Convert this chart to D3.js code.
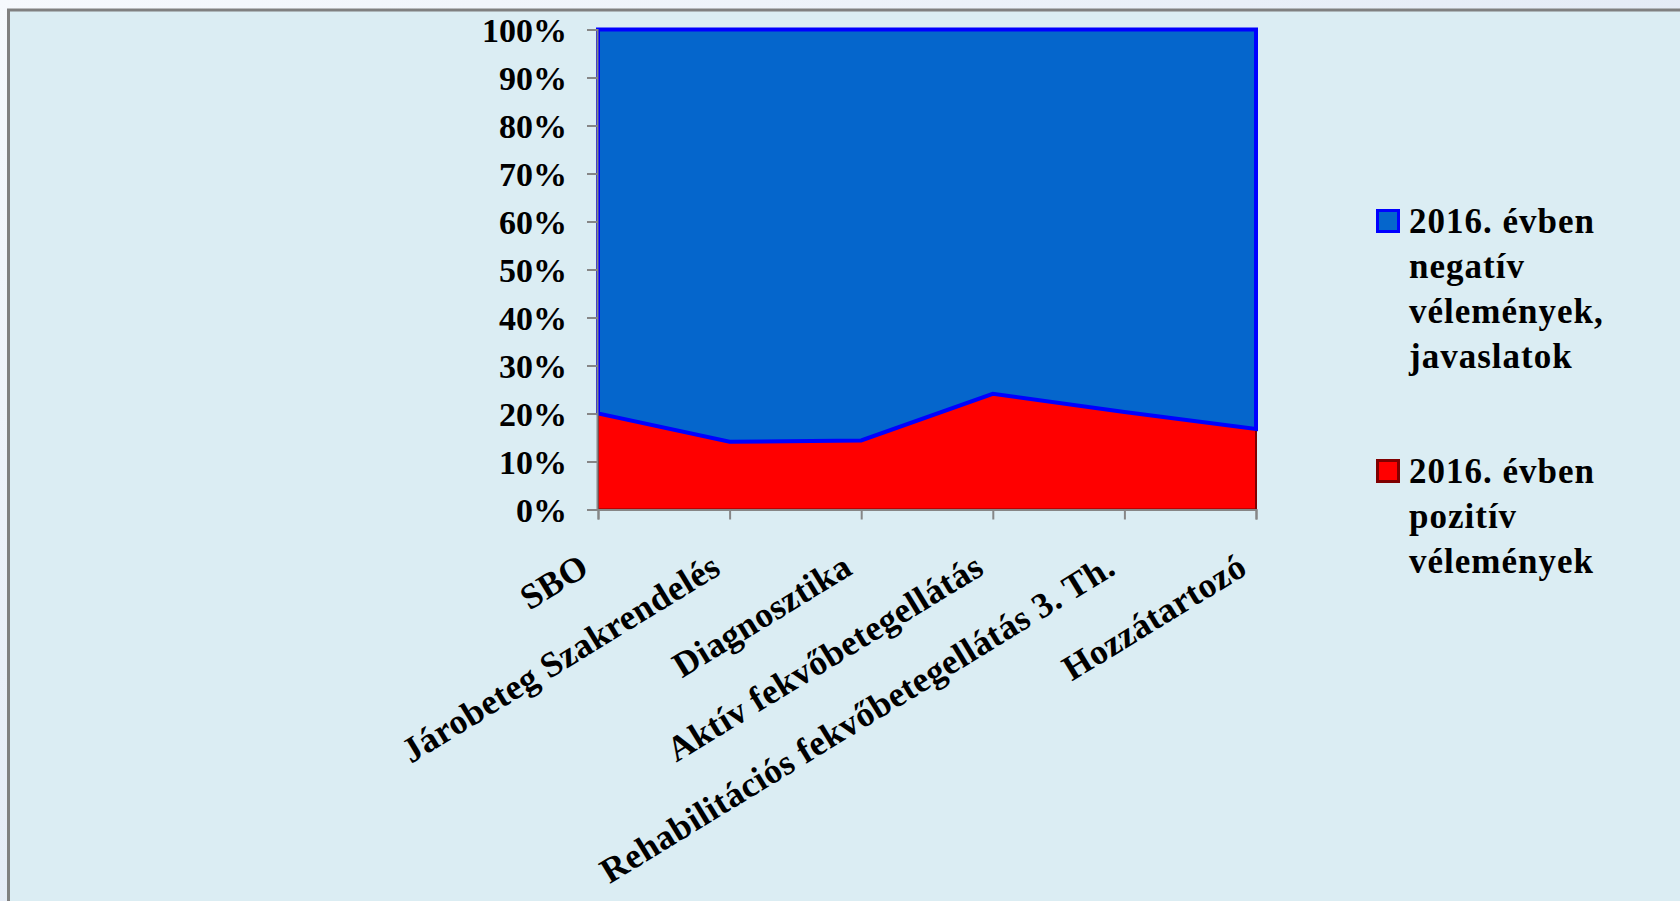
<!DOCTYPE html>
<html>
<head>
<meta charset="utf-8">
<script src="https://cdn.jsdelivr.net/npm/d3@7"></script>
<style>
html,body{margin:0;padding:0;background:#eef3fa;overflow:hidden;}
svg{display:block;}
text{font-family:"Liberation Serif","Times New Roman",serif;font-weight:bold;fill:#000;}
</style>
</head>
<body>
<svg id="chart" width="1680" height="901"></svg>
<script>
const categories = ["SBO","Járobeteg Szakrendelés","Diagnosztika","Aktív fekvőbetegellátás","Rehabilitációs fekvőbetegellátás 3. Th.","Hozzátartozó"];
const positive = [20.0, 14.1, 14.4, 24.1, 20.3, 16.8];
const negative = [80.0, 85.9, 85.6, 75.9, 79.7, 83.2];
const yTicks = [0,10,20,30,40,50,60,70,80,90,100];
const legendPos = ["2016. évben","pozitív","vélemények"];
const legendNeg = ["2016. évben","negatív","vélemények,","javaslatok"];

const svg = d3.select("#chart");
const defs = svg.append("defs");
const g0 = defs.append("linearGradient").attr("id","bg").attr("x1","0").attr("y1","0").attr("x2","1").attr("y2","1");
g0.append("stop").attr("offset","0").attr("stop-color","#f6f9fd");
g0.append("stop").attr("offset","1").attr("stop-color","#d3deef");
svg.append("rect").attr("width",1680).attr("height",901).attr("fill","url(#bg)");
svg.append("rect").attr("x",8.5).attr("y",10).attr("width",1700).attr("height",920)
  .attr("fill","#dbedf3").attr("stroke","#808080").attr("stroke-width",3);

const x = d3.scalePoint().domain(categories).range([598,1256]);
const y = d3.scaleLinear().domain([0,100]).range([509.5,29.5]);

const rows = categories.map((c,i)=>({cat:c,pos:positive[i],neg:negative[i]}));
const stack = d3.stack().keys(["pos","neg"]).offset(d3.stackOffsetExpand)(rows);

const area = d3.area().x(d=>x(d.data.cat)).y0(d=>y(d[0]*100)).y1(d=>y(d[1]*100));
const fills = {pos:"#ff0000", neg:"#0566cc"};
const strokes = {pos:"#7f0000", neg:"#0000ff"};
const widths = {pos:2, neg:4};

stack.forEach(s=>{
  svg.append("path").datum(s).attr("d",area).attr("fill",fills[s.key])
    .attr("stroke",strokes[s.key]).attr("stroke-width",widths[s.key]).attr("stroke-linejoin","miter");
});

// axes
const yAxis = d3.axisLeft(y).tickValues(yTicks).tickFormat(d=>d+"%").tickSize(10).tickPadding(20);
const ya = svg.append("g").attr("transform","translate(597,0)").call(yAxis);
ya.select(".domain").attr("stroke","#868686").attr("stroke-width",2);
ya.selectAll(".tick line").attr("stroke","#868686").attr("stroke-width",2);
ya.selectAll(".tick text").attr("font-size",34).attr("font-family","Liberation Serif").attr("font-weight","bold").attr("fill","#000").attr("dy","0.36em").attr("x",-30);

const xAxis = d3.axisBottom(x).tickSize(10).tickFormat("");
const xa = svg.append("g").attr("transform","translate(0,509.5)").call(xAxis);
xa.select(".domain").attr("stroke","#868686").attr("stroke-width",2);
xa.selectAll(".tick line").attr("stroke","#868686").attr("stroke-width",2);

// rotated category labels
svg.append("g").selectAll("text").data(categories).join("text")
  .attr("transform",d=>`translate(${x(d)-7},573) rotate(-31.5)`)
  .attr("text-anchor","end")
  .attr("font-size",35.5)
  .attr("letter-spacing","0.4")
  .text(d=>d);

// legend
function legendItem(lines, top, fill, stroke){
  const g = svg.append("g");
  g.append("rect").attr("x",1377.5).attr("y",top+1.5).attr("width",21).attr("height",21)
    .attr("fill",fill).attr("stroke",stroke).attr("stroke-width",3);
  g.selectAll("text").data(lines).join("text")
    .attr("x",1409).attr("y",(d,i)=>top+24+i*45)
    .attr("font-size",35).attr("letter-spacing","1")
    .text(d=>d);
}
legendItem(legendNeg, 209, fills.neg, strokes.neg);
legendItem(legendPos, 459, fills.pos, strokes.pos);
</script>
</body>
</html>
